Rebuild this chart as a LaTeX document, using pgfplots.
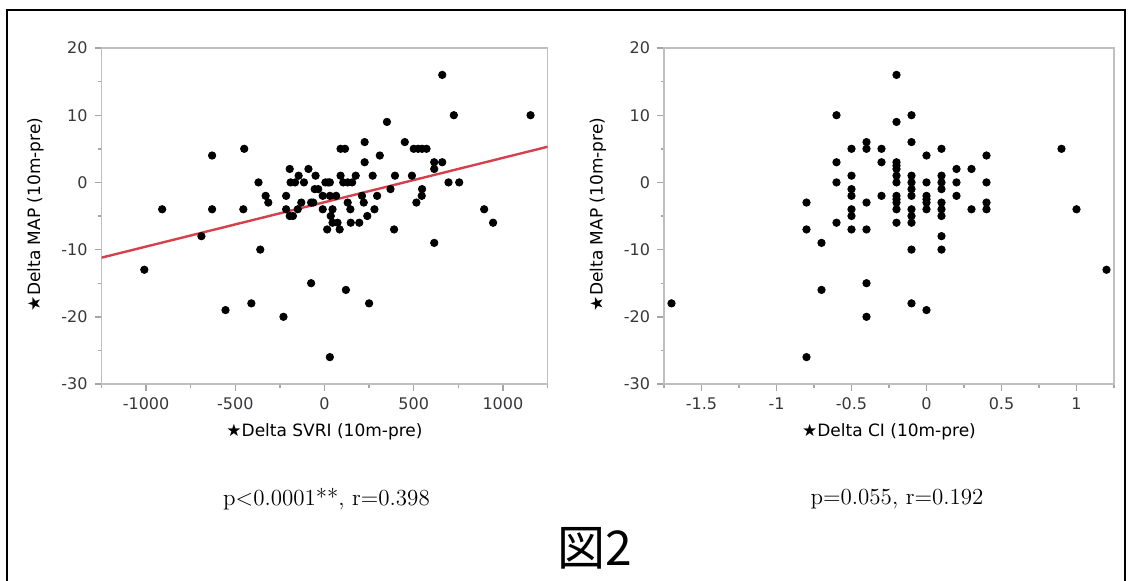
\documentclass[border=0pt]{standalone}
\usepackage{fontspec}
\usepackage{pgfplots}
\pgfplotsset{compat=1.18}
\newfontfamily\dejavu{DejaVu Sans}
\newfontfamily\cjk{Noto Sans CJK JP}
\definecolor{fitred}{RGB}{214,64,76}
\definecolor{ticktext}{RGB}{55,55,60}

\pgfplotsset{
  jmpax/.style={
    scale only axis,
    height=168pt,
    ymin=-30, ymax=20,
    ytick={-30,-20,-10,0,10,20},
    yticklabels={-30,-20,-10,0,10,20},
    minor ytick={-25,-15,-5,5,15},
    tick align=outside,
    tick pos=left,
    major tick length=3.5pt,
    minor tick length=1.75pt,
    axis line style={draw=black!25, line width=0.8pt},
    every tick/.style={draw=black!35, line width=0.7pt},
    ticklabel style={font=\dejavu\fontsize{8}{9}\selectfont, text=ticktext},
    label style={font=\dejavu\fontsize{8.5}{10}\selectfont},
    ylabel={★Delta MAP (10m-pre)},
    % rotated label: yshift moves it to the left
    ylabel style={at={(axis description cs:0,0.505)}, anchor=center, yshift=33pt},
    xlabel style={at={(axis description cs:0.5,0)}, anchor=center, yshift=-24pt},
  }
}

\begin{document}
\begin{tikzpicture}
\path[use as bounding box] (0pt,0pt) rectangle (565.5pt,290pt);
\draw[line width=1pt] (3.25pt,-2pt) |- (562.5pt,285pt) -- (562.5pt,-2pt);

% left: SVRI
\begin{axis}[jmpax,
  at={(50.75pt,98pt)}, anchor=south west,
  width=223pt,
  xmin=-1250, xmax=1250,
  xtick={-1000,-500,0,500,1000},
  xticklabels={-1000,-500,0,500,1000},
  minor xtick={-1250,-750,-250,250,750,1250},
  xlabel={★Delta SVRI (10m-pre)},
]
\addplot[fitred, line width=1.2pt] coordinates {(-1250,-11.2) (1250,5.3)};
\addplot[only marks, mark=*, mark size=1.85pt, black] coordinates {
(-1010,-13) (-910,-4) (-690,-8) (-630,4) (-630,-4) (-555,-19) (-450,5) (-455,-4)
(-410,-18) (-370,0) (-360,-10) (-330,-2) (-315,-3) (-230,-20) (-215,-2) (-215,-4)
(-195,2) (-190,0) (-195,-5) (-177,-5) (-165,0) (-150,-4) (-145,1) (-130,-3)
(-115,0) (-90,2) (-75,-3) (-63,-3) (-75,-15) (-55,-1) (-50,1) (-35,-1)
(-10,-2) (-10,-4) (5,0) (20,0) (30,0) (15,-7) (30,-2) (30,-26)
(35,-5) (45,-4) (45,-6) (65,-2) (73,-6) (85,-7) (90,1) (90,5)
(115,5) (105,0) (120,-16) (130,0) (130,-3) (145,-4) (147,-6) (155,0)
(175,1) (195,-6) (210,-2) (220,-3) (225,6) (225,3) (240,-5) (250,-18)
(270,1) (280,-4) (295,-2) (310,4) (350,9) (370,-1) (390,-7) (395,1)
(450,6) (490,1) (500,5) (525,5) (547,5) (572,5) (515,-3) (545,-2)
(547,-1) (615,3) (615,2) (615,-9) (660,16) (660,3) (695,0) (725,10)
(755,0) (895,-4) (945,-6) (1155,10)
};
\end{axis}

% right: CI
\begin{axis}[jmpax,
  at={(332pt,98pt)}, anchor=south west,
  width=225pt,
  xmin=-1.75, xmax=1.25,
  xtick={-1.5,-1,-0.5,0,0.5,1},
  xticklabels={-1.5,-1,-0.5,0,0.5,1},
  minor xtick={-1.75,-1.25,-0.75,-0.25,0.25,0.75,1.25},
  xlabel={★Delta CI (10m-pre)},
]
\addplot[only marks, mark=*, mark size=1.85pt, black] coordinates {
(-1.7,-18)
(-0.8,-3) (-0.8,-7) (-0.8,-26)
(-0.7,-9) (-0.7,-16)
(-0.6,10) (-0.6,3) (-0.6,0) (-0.6,-6)
(-0.5,5) (-0.5,1) (-0.5,-1) (-0.5,-2) (-0.5,-4) (-0.5,-5) (-0.5,-7)
(-0.4,6) (-0.4,5) (-0.4,-3) (-0.4,-7) (-0.4,-15) (-0.4,-20)
(-0.3,5) (-0.3,3) (-0.3,-2)
(-0.2,16) (-0.2,9) (-0.2,3) (-0.2,2.5) (-0.2,2) (-0.2,1) (-0.2,0) (-0.2,-2)
(-0.2,-2.5) (-0.2,-3) (-0.2,-4) (-0.2,-6)
(-0.1,10) (-0.1,6) (-0.1,1) (-0.1,0) (-0.1,-1) (-0.1,-2) (-0.1,-4) (-0.1,-5)
(-0.1,-6) (-0.1,-10) (-0.1,-18)
(0,4) (0,0) (0,-2) (0,-2.5) (0,-3) (0,-4) (0,-19)
(0.1,5) (0.1,1) (0.1,0) (0.1,-1) (0.1,-3) (0.1,-4) (0.1,-5) (0.1,-8) (0.1,-10)
(0.2,2) (0.2,0) (0.2,-2)
(0.3,2) (0.3,-4)
(0.4,4) (0.4,0) (0.4,-3) (0.4,-4)
(0.9,5) (1.0,-4) (1.2,-13)
};
\end{axis}

\node[font=\fontsize{11.5}{13}\selectfont] at (163.25pt,40.5pt) {p<0.0001**, r=0.398};
\node[font=\fontsize{11.5}{13}\selectfont] at (448.5pt,40.5pt) {p=0.055, r=0.192};
\node[font=\cjk\fontsize{24}{28}\selectfont] at (297.5pt,16pt) {図2};
\end{tikzpicture}
\end{document}
